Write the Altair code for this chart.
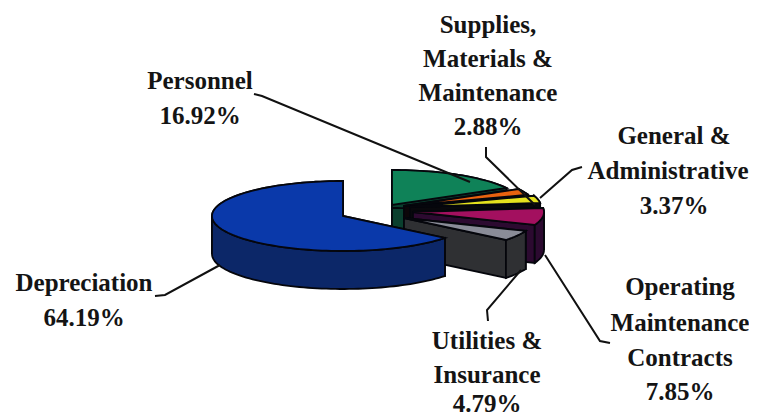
import math
import altair as alt

# Slice values (percent), clockwise from 12 o'clock for the exploded group
names = ["Personnel", "Supplies", "General", "Operating", "Utilities"]
shares = [16.92, 2.88, 3.37, 7.85, 4.79]
depreciation = 64.19
top_colors = ["#0f8258", "#e8620f", "#e6e21e", "#a3105f", "#8a8c98"]
side_colors = ["#0a3f2e", "#0c0609", "#08080c", "#2c0a30", "#2f3033"]
blue_top, blue_side = "#0a39aa", "#0c2768"
# explosion apex per slice (pixels on page)
apex_x = [392, 404, 410, 413, 404]
apex_y = [205, 206, 207, 212, 218]
blue_apex = (343, 216)
rx, ry, depth = 131, 35, 38

W, H, M = 741, 410, 8


def pt(ax, ay, deg):
    a = math.radians(deg)
    return (ax + rx * math.sin(a), ay - ry * math.cos(a))


def poly(coords, fill, stroke):
    ring = [[x, y] for x, y in coords]
    ring.append(ring[0])
    return {"type": "Feature", "geometry": {"type": "Polygon", "coordinates": [ring]},
            "properties": {"fill": fill, "stroke": stroke}}


def band(ax, ay, a0, a1, side, e):
    n = max(3, int(abs(a1 - a0) / 2))
    arc = [pt(ax, ay, a0 + (a1 - a0) * i / n) for i in range(n + 1)]
    low = [(x, y + depth) for x, y in arc]
    return poly(arc + low[::-1], side, e)


def slice_features(ax, ay, a0, a1, top, side):
    e = "#05060c"
    p0, p1 = pt(ax, ay, a0), pt(ax, ay, a1)
    out = [
        poly([(ax, ay), p0, (p0[0], p0[1] + depth), (ax, ay + depth)], side, e),
        poly([(ax, ay), p1, (p1[0], p1[1] + depth), (ax, ay + depth)], side, e),
    ]
    # outer wall, split where the ellipse turns back so each part is a simple shape
    cuts = [a0]
    for c in (90, -90):
        if min(a0, a1) < c < max(a0, a1):
            cuts.append(c)
    cuts.append(a1)
    for u, v in zip(cuts, cuts[1:]):
        out.append(band(ax, ay, u, v, side, e))
    n = max(3, int(abs(a1 - a0) / 2))
    arc = [pt(ax, ay, a0 + (a1 - a0) * i / n) for i in range(n + 1)]
    out.append(poly([(ax, ay)] + arc, top, e))
    return out


features = []
start = 0.0
for nm, s, tc, sc, ax, ay in zip(names, shares, top_colors, side_colors, apex_x, apex_y):
    end = start + s * 3.6
    features += slice_features(ax, ay, start, end, tc, sc)
    start = end
features += slice_features(blue_apex[0], blue_apex[1], 0, -depreciation * 3.6, blue_top, blue_side)

pie = alt.Chart(alt.Data(values=features, format=alt.DataFormat(type="json"))).mark_geoshape(strokeWidth=1.8).encode(
    fill=alt.Fill("properties.fill:N", scale=None),
    stroke=alt.Stroke("properties.stroke:N", scale=None),
).project(type="identity", scale=1, translate=[-M, -M])

lines_text = [
    ("Personnel", 200, 81), ("16.92%", 200, 116),
    ("Supplies,", 488, 25), ("Materials &", 488, 59), ("Maintenance", 488, 93), ("2.88%", 488, 127),
    ("General &", 674, 136), ("Administrative", 668, 171), ("3.37%", 674, 206),
    ("Operating", 680, 287), ("Maintenance", 680, 323), ("Contracts", 680, 358), ("7.85%", 680, 392),
    ("Utilities &", 487, 341), ("Insurance", 487, 375), ("4.79%", 487, 404),
    ("Depreciation", 84, 283), ("64.19%", 84, 318),
]
leaders = [
    [(254, 94), (262, 96), (470, 182)],
    [(486, 147), (486, 157), (535, 205)],
    [(582, 167), (572, 170), (540, 198)],
    [(610, 343), (600, 341), (545, 255)],
    [(488, 321), (487, 310), (521, 270)],
    [(155, 296), (165, 295), (220, 265)],
]
xs = alt.X("x:Q", scale=alt.Scale(domain=[M, M + W], range=[0, W]), axis=None)
ys = alt.Y("y:Q", scale=alt.Scale(domain=[M, M + H], range=[0, H]), axis=None)

leader_rows = [{"id": i, "k": k, "x": p[0], "y": p[1]} for i, l in enumerate(leaders) for k, p in enumerate(l)]
leader_chart = alt.Chart(alt.Data(values=leader_rows)).mark_line(color="#111111", strokeWidth=2, clip=False).encode(
    x=xs, y=ys, detail="id:N", order="k:Q")

text_rows = [{"t": t, "x": x, "y": y} for t, x, y in lines_text]
labels = alt.Chart(alt.Data(values=text_rows)).mark_text(
    font="Liberation Serif", fontWeight="bold", fontSize=25, color="#141414", align="center", baseline="middle", clip=False
).encode(x=xs, y=ys, text="t:N")

chart = alt.layer(pie, leader_chart, labels).properties(
    width=W, height=H, padding=0, autosize=alt.AutoSizeParams(type="none"),
    background="white",
).configure_view(stroke=None)
chart.save("out.html", embed_options={"renderer": "svg", "actions": False})
